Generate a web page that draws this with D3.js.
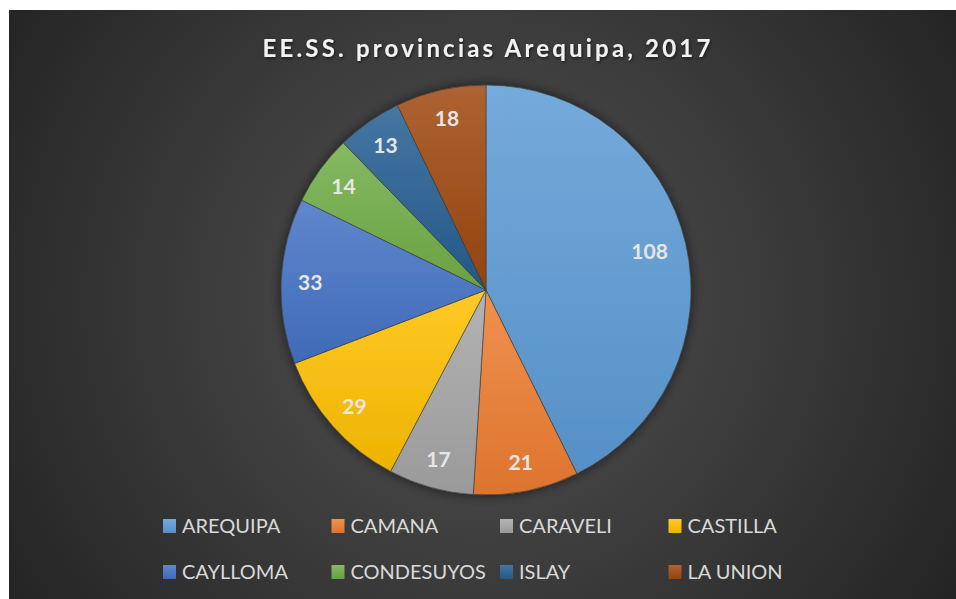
<!DOCTYPE html>
<html>
<head>
<meta charset="utf-8">
<script src="https://cdn.jsdelivr.net/npm/d3@7"></script>
<style>
  html, body { margin: 0; padding: 0; background: #fff; }
  svg { display: block; }
</style>
</head>
<body>
<svg width="956" height="599"></svg>
<script>
const provinces = ["AREQUIPA", "CAMANA", "CARAVELI", "CASTILLA", "CAYLLOMA", "CONDESUYOS", "ISLAY", "LA UNION"];
const counts = [108, 21, 17, 29, 33, 14, 13, 18];
const colors = ["#5B9BD5", "#ED7D31", "#A5A5A5", "#FFC000", "#4472C4", "#70AD47", "#255E91", "#9E480E"];
const title = "EE.SS. provincias Arequipa, 2017";

const svg = d3.select("svg"),
    width = +svg.attr("width"),
    height = +svg.attr("height");

const cx = 486, cy = 290, radius = 205;

const defs = svg.append("defs");

// background gradient
const bg = defs.append("radialGradient")
    .attr("id", "bg")
    .attr("gradientUnits", "userSpaceOnUse")
    .attr("cx", 480).attr("cy", 300).attr("r", 560);
bg.append("stop").attr("offset", "0%").attr("stop-color", "#535353");
bg.append("stop").attr("offset", "100%").attr("stop-color", "#242424");

// slice gradients (lighter at top)
colors.forEach((c, i) => {
    const g = defs.append("linearGradient")
        .attr("id", "sl" + i)
        .attr("x1", 0).attr("y1", 0).attr("x2", 0).attr("y2", 1);
    g.append("stop").attr("offset", "0%").attr("stop-color", d3.interpolateRgb(c, "#fff")(0.15));
    g.append("stop").attr("offset", "100%").attr("stop-color", d3.color(c).darker(0.2));
});

const shadow = defs.append("filter").attr("id", "shadow")
    .attr("x", "-20%").attr("y", "-20%").attr("width", "140%").attr("height", "140%");
shadow.append("feGaussianBlur").attr("in", "SourceAlpha").attr("stdDeviation", 6);
shadow.append("feOffset").attr("dx", 0).attr("dy", 0).attr("result", "b");
shadow.append("feComponentTransfer").append("feFuncA").attr("type", "linear").attr("slope", 0.6);
const merge = shadow.append("feMerge");
merge.append("feMergeNode");
merge.append("feMergeNode").attr("in", "SourceGraphic");

const tshadow = defs.append("filter").attr("id", "tshadow")
    .attr("x", "-10%").attr("y", "-30%").attr("width", "120%").attr("height", "160%");
tshadow.append("feDropShadow").attr("dx", 1).attr("dy", 1.5).attr("stdDeviation", 1.5)
    .attr("flood-color", "#000").attr("flood-opacity", 0.6);

svg.append("rect")
    .attr("x", 9).attr("y", 10)
    .attr("width", width - 9).attr("height", height - 10)
    .attr("fill", "url(#bg)");

// Title
svg.append("text")
    .attr("x", 488).attr("y", 57)
    .attr("text-anchor", "middle")
    .attr("font-family", "Lato, 'Open Sans', sans-serif")
    .attr("font-weight", "bold")
    .attr("font-size", 24)
    .attr("letter-spacing", 3.2)
    .attr("fill", "#f2f2f2")
    .attr("filter", "url(#tshadow)")
    .text(title);

// Pie
const pie = d3.pie().sort(null).value(d => d)(counts);
const arc = d3.arc().innerRadius(0).outerRadius(radius);

const g = svg.append("g").attr("transform", `translate(${cx},${cy})`);

g.append("g").attr("filter", "url(#shadow)")
    .selectAll("path")
    .data(pie)
    .join("path")
    .attr("d", arc)
    .attr("fill", (d, i) => `url(#sl${i})`)
    .attr("stroke", "#3a3a3a")
    .attr("stroke-width", 0.6);

g.selectAll("text.lbl")
    .data(pie)
    .join("text")
    .attr("class", "lbl")
    .attr("transform", d => {
        const r = d.data >= 100 ? 168 : 176;
        const a = (d.startAngle + d.endAngle) / 2;
        return `translate(${Math.sin(a) * r},${-Math.cos(a) * r})`;
    })
    .attr("text-anchor", "middle")
    .attr("dy", "0.36em")
    .attr("font-family", "Lato, 'Open Sans', sans-serif")
    .attr("font-weight", "bold")
    .attr("font-size", 21)
    .attr("fill", "#e6e6e6")
    .text(d => d.data);

// Legend
const legend = svg.append("g")
    .attr("font-family", "Lato, 'Open Sans', sans-serif")
    .attr("font-size", 20)
    .attr("fill", "#d9d9d9");

const item = legend.selectAll("g")
    .data(provinces)
    .join("g")
    .attr("transform", (d, i) => `translate(${163 + (i % 4) * 168.5},${526 + Math.floor(i / 4) * 46})`);

item.append("rect")
    .attr("x", 0).attr("y", -7)
    .attr("width", 13).attr("height", 14)
    .attr("fill", (d, i) => `url(#sl${i})`);

item.append("text")
    .attr("x", 19)
    .attr("dy", "0.36em")
    .text(d => d);
</script>
</body>
</html>
